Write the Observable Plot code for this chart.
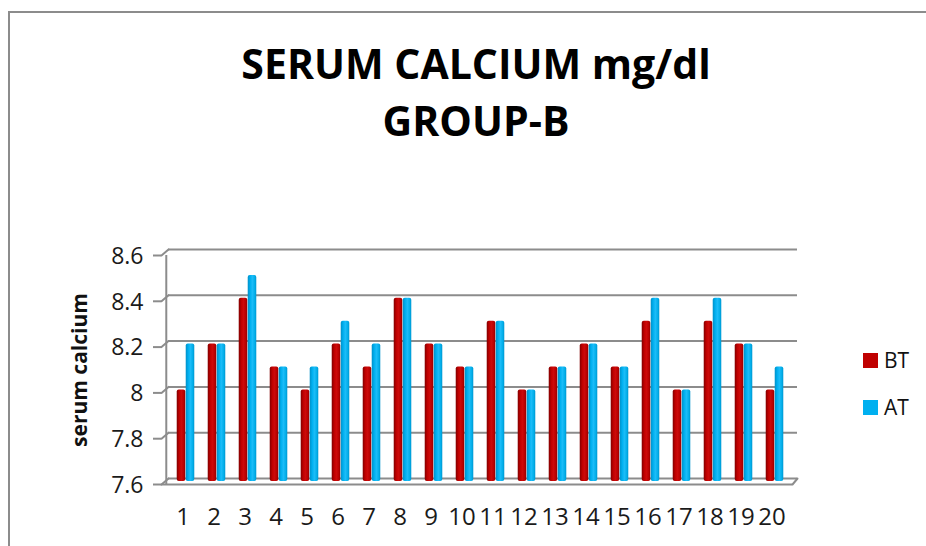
<!DOCTYPE html>
<html>
<head>
<meta charset="utf-8">
<script src="https://cdn.jsdelivr.net/npm/d3@7"></script>
<script src="https://cdn.jsdelivr.net/npm/@observablehq/plot@0.6"></script>
<style>
  html, body { margin: 0; padding: 0; background: #fff; }
  #wrap { position: relative; width: 926px; height: 546px; overflow: hidden; font-family: "Open Sans", sans-serif; }
  #border { position: absolute; left: 8px; top: 11px; width: 940px; height: 560px; border-left: 2px solid #8c8c8c; border-top: 2px solid #8c8c8c; }
  #title { position: absolute; top: 35px; left: 26px; width: 900px; text-align: center; font-weight: 700; font-size: 41px; line-height: 57px; color: #000; }
  #chart { position: absolute; left: 0; top: 0; }
  .leg { position: absolute; font-size: 21px; line-height: 21px; color: #111; }
  .sw { position: absolute; width: 15px; height: 15px; }
</style>
</head>
<body>
<div id="wrap">
  <div id="border"></div>
  <div id="chart"></div>
  <div id="title"></div>
  <div id="legend"></div>
</div>
<script>
// ---- data ----
const categories = ["1","2","3","4","5","6","7","8","9","10","11","12","13","14","15","16","17","18","19","20"];
const seriesNames = ["BT", "AT"];
const bt = [8.0, 8.2, 8.4, 8.1, 8.0, 8.2, 8.1, 8.4, 8.2, 8.1, 8.3, 8.0, 8.1, 8.2, 8.1, 8.3, 8.0, 8.3, 8.2, 8.0];
const at = [8.2, 8.2, 8.5, 8.1, 8.1, 8.3, 8.2, 8.4, 8.2, 8.1, 8.3, 8.0, 8.1, 8.2, 8.1, 8.4, 8.0, 8.4, 8.2, 8.1];
const yTicks = [7.6, 7.8, 8.0, 8.2, 8.4, 8.6];
const yTickLabels = ["7.6", "7.8", "8", "8.2", "8.4", "8.6"];
const titleLines = ["SERUM CALCIUM mg/dl", "GROUP-B"];
const yLabel = "serum calcium";
const seriesColors = ["#C00000", "#00B0F0"];

// ---- layout ----
const W = 926, H = 546;
const mL = 168, mR = 129, mT = 249, mB = 68;
const frameW = W - mL - mR;
const bw = frameW / categories.length;
const barW = 9;
const depthX = 7, depthY = 6;   // 3D offset of front plane
const grid = "#8c8c8c";

const rows = categories.map((c, i) => ({cat: c, BT: bt[i], AT: at[i]}));

const lineShape = {draw(context, l) { context.moveTo(0, 0); context.lineTo(0, -l); }};
const diagLen = Math.hypot(depthX, depthY);
const diagRot = Math.atan2(depthX, depthY) * 180 / Math.PI;

const plot = Plot.plot({
  width: W, height: H,
  marginLeft: mL, marginRight: mR, marginTop: mT, marginBottom: mB,
  style: {fontFamily: "Open Sans, sans-serif", color: "#1a1a1a", background: "transparent", overflow: "visible"},
  x: {domain: categories, padding: 0, label: null},
  y: {domain: [yTicks[0], yTicks[yTicks.length - 1]], label: null},
  marks: [
    // back wall grid lines (incl. back floor edge)
    Plot.ruleY(yTicks, {stroke: grid, strokeWidth: 2}),
    // left wall diagonals
    Plot.vector(yTicks, {y: d => d, frameAnchor: "left", anchor: "start", length: diagLen, rotate: diagRot,
      shape: lineShape, stroke: grid, strokeWidth: 2, fill: "none", dx: -depthX, dy: depthY}),
    // front vertical axis
    Plot.ruleX([categories[0]], {x: d => d, y1: yTicks[0], y2: yTicks[yTicks.length - 1],
      dx: -(bw / 2 + depthX), dy: depthY, stroke: grid, strokeWidth: 2}),
    // front ticks
    Plot.ruleY(yTicks, {dy: depthY, insetLeft: -(depthX + 8), insetRight: frameW + depthX, stroke: grid, strokeWidth: 2}),
    // front floor edge
    Plot.ruleY([yTicks[0]], {dy: depthY, insetLeft: -depthX, insetRight: 5, stroke: grid, strokeWidth: 2}),
    // right floor diagonal
    Plot.vector([yTicks[0]], {y: d => d, frameAnchor: "right", anchor: "start", length: Math.hypot(5, depthY),
      rotate: Math.atan2(5, depthY) * 180 / Math.PI, shape: lineShape, stroke: grid, strokeWidth: 2, fill: "none", dx: -5, dy: depthY}),
    // bars
    Plot.barY(rows, {x: "cat", y1: yTicks[0], y2: "BT", fill: "url(#gradBT)",
      insetLeft: bw / 2 - barW, insetRight: bw / 2, dx: -3, dy: 3, rx: 2}),
    Plot.barY(rows, {x: "cat", y1: yTicks[0], y2: "AT", fill: "url(#gradAT)",
      insetLeft: bw / 2, insetRight: bw / 2 - barW, dx: -3, dy: 3, rx: 2}),
    // axes
    Plot.axisY({ticks: yTicks, tickFormat: (d, i) => yTickLabels[i], tickSize: 0, tickPadding: 25,
      dy: 7, fontSize: 23, fill: "#1a1a1a", label: null}),
    Plot.axisX({tickSize: 0, tickPadding: 29, dx: -6, fontSize: 24, fill: "#1a1a1a", label: null}),
    // y axis title
    Plot.text([yLabel], {text: d => d, frameAnchor: "left", textAnchor: "middle", rotate: -90, dx: -88, dy: 6,
      fontSize: 21, fontWeight: 700, fill: "#111"})
  ]
});

// gradients for cylinder-like shading
const ns = "http://www.w3.org/2000/svg";
const defs = document.createElementNS(ns, "defs");
defs.innerHTML = `
  <linearGradient id="gradBT" x1="0" x2="1" y1="0" y2="0">
    <stop offset="0" stop-color="#800000"/>
    <stop offset="0.3" stop-color="#c00000"/>
    <stop offset="0.55" stop-color="#cc0a0a"/>
    <stop offset="0.85" stop-color="#b80000"/>
    <stop offset="1" stop-color="#900000"/>
  </linearGradient>
  <linearGradient id="gradAT" x1="0" x2="1" y1="0" y2="0">
    <stop offset="0" stop-color="#0090c8"/>
    <stop offset="0.3" stop-color="#00b0f0"/>
    <stop offset="0.55" stop-color="#1cbcf8"/>
    <stop offset="0.85" stop-color="#00ade8"/>
    <stop offset="1" stop-color="#0092cc"/>
  </linearGradient>`;
plot.insertBefore(defs, plot.firstChild);
document.getElementById("chart").appendChild(plot);

// title
document.getElementById("title").innerHTML = titleLines.map(t => `<div>${t}</div>`).join("");

// legend
const legend = document.getElementById("legend");
seriesNames.forEach((name, i) => {
  const top = 353 + i * 47;
  const sw = document.createElement("div");
  sw.className = "sw";
  sw.style.left = "863px"; sw.style.top = top + "px"; sw.style.background = seriesColors[i];
  legend.appendChild(sw);
  const tx = document.createElement("div");
  tx.className = "leg";
  tx.style.left = "884px"; tx.style.top = (top - 3) + "px";
  tx.textContent = name;
  legend.appendChild(tx);
});
</script>
</body>
</html>
